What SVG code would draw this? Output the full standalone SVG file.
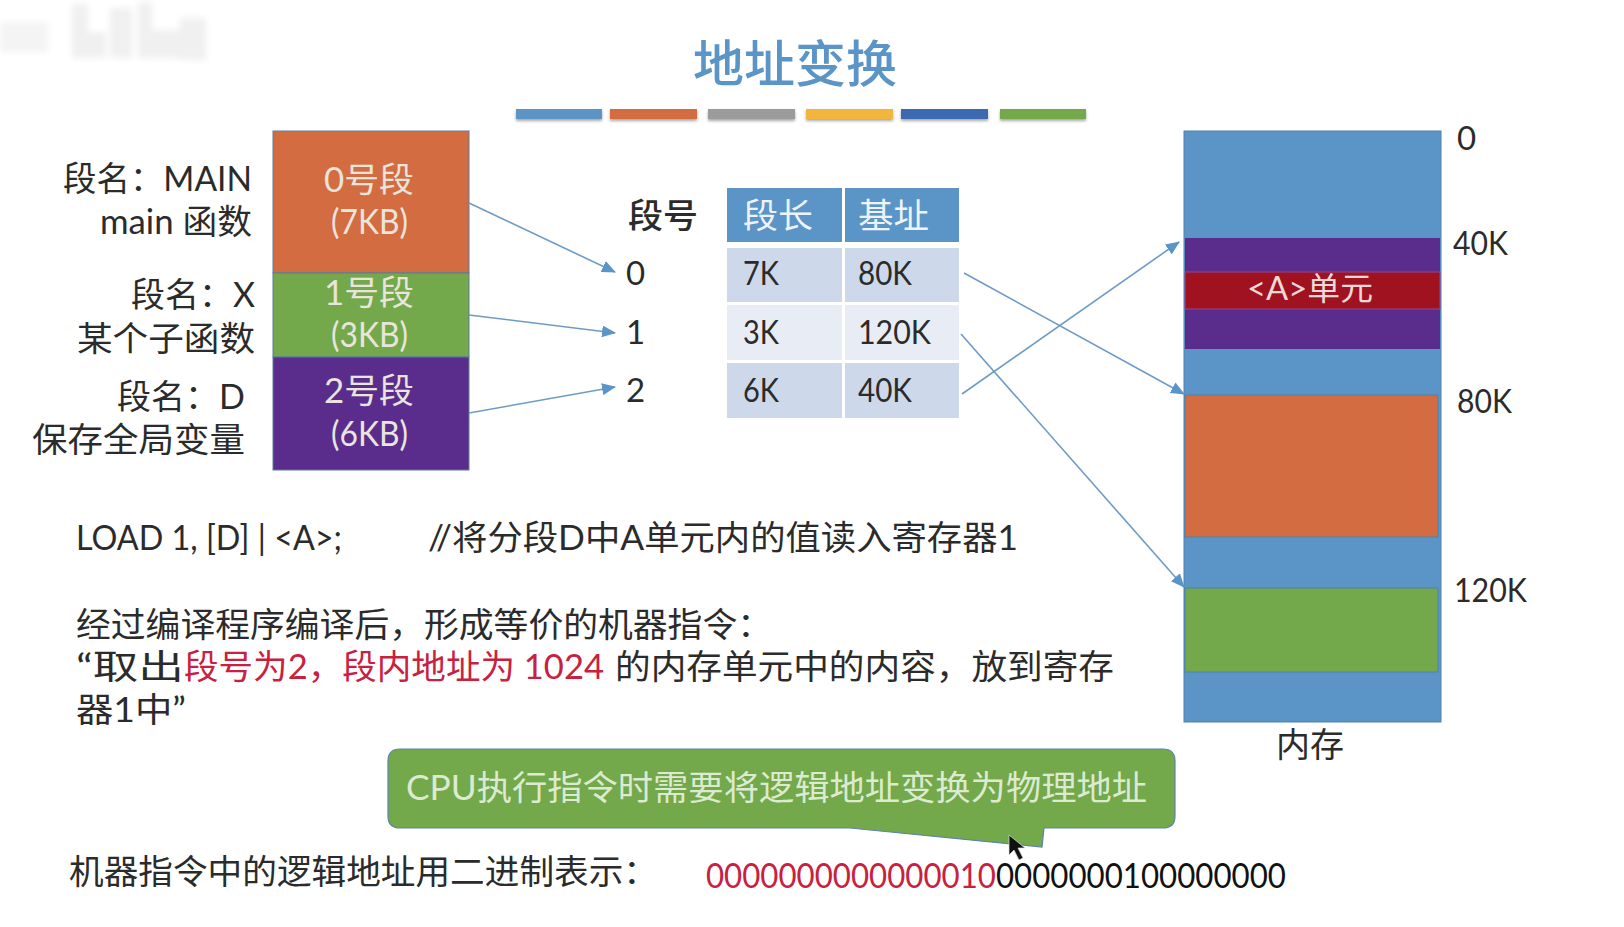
<svg xmlns="http://www.w3.org/2000/svg" width="1624" height="927" viewBox="0 0 1624 927">
<style>
text{font-family:"Lato","Noto Sans CJK SC","Noto Sans",sans-serif;font-size:34px;fill:#2b2b2b}
.wl{text-anchor:start}
.red{fill:#c8213f}
.lt{fill:#e9e4dc;font-size:34px}
.cell{font-size:33px}
.seg{stroke:#5a7d9e;stroke-width:1}
.mem{stroke:#4f81ad;stroke-width:1}
.conn{stroke:#6d9bc6;stroke-width:1.6;fill:none;marker-end:url(#arr)}
.hdr{fill:#5b94c6}.r1{fill:#cdd9ea}.r2{fill:#e8edf5}
</style>
<defs>
<marker id="arr" markerUnits="userSpaceOnUse" markerWidth="14" markerHeight="12" refX="13" refY="6" orient="auto"><path d="M0 0L14 6L0 12z" fill="#5b94c6"/></marker>
<filter id="sh" x="-5%" y="-50%" width="110%" height="250%"><feDropShadow dx="0" dy="2" stdDeviation="1.5" flood-color="#000" flood-opacity=".35"/></filter>
<filter id="bl" x="-20%" y="-20%" width="140%" height="140%"><feGaussianBlur stdDeviation="3"/></filter>
</defs>
<rect width="1624" height="927" fill="#fff"/>
<g id="watermark" fill="#f0f0f0" filter="url(#bl)">
<rect x="0" y="22" width="48" height="30" opacity=".7"/>
<rect x="72" y="4" width="16" height="54"/><rect x="72" y="32" width="34" height="26"/>
<rect x="110" y="8" width="22" height="50"/><rect x="138" y="2" width="14" height="56"/>
<rect x="152" y="30" width="30" height="28"/><rect x="180" y="18" width="26" height="42"/>
</g>
<g id="title">
<text x="693" y="82" textLength="204" lengthAdjust="spacingAndGlyphs" style="font-size:50px;fill:#5b94c6;font-weight:500">地址变换</text>
<g filter="url(#sh)">
<rect x="516" y="109" width="86" height="10" fill="#5b94c6"/>
<rect x="610" y="109" width="87" height="10" fill="#d36c41"/>
<rect x="708" y="109" width="87" height="10" fill="#9b9b9b"/>
<rect x="806" y="109" width="87" height="10" fill="#f2b53c"/>
<rect x="901" y="109" width="87" height="10" fill="#3e69b0"/>
<rect x="1000" y="109" width="86" height="10" fill="#73a84b"/>
</g>
</g>
<g id="seg0">
<rect class="seg" x="273" y="131" width="196" height="142" fill="#d36c41"/>
<text class="lt" x="324" y="192" textLength="90" lengthAdjust="spacingAndGlyphs">0号段</text>
<text class="lt" x="331" y="234" textLength="77" lengthAdjust="spacingAndGlyphs">(7KB)</text>
<text x="63" y="191" textLength="189" lengthAdjust="spacingAndGlyphs">段名：MAIN</text>
<text x="100" y="234" textLength="152" lengthAdjust="spacingAndGlyphs">main 函数</text>
</g>
<g id="seg1">
<rect class="seg" x="273" y="273" width="196" height="84" fill="#73a84b"/>
<text class="lt" x="324" y="305" textLength="90" lengthAdjust="spacingAndGlyphs">1号段</text>
<text class="lt" x="331" y="347" textLength="77" lengthAdjust="spacingAndGlyphs">(3KB)</text>
<text x="131" y="307" textLength="124" lengthAdjust="spacingAndGlyphs">段名：X</text>
<text x="77" y="351" textLength="178" lengthAdjust="spacingAndGlyphs">某个子函数</text>
</g>
<g id="seg2">
<rect class="seg" x="273" y="357" width="196" height="113" fill="#5a2d8c"/>
<text class="lt" x="324" y="403" textLength="90" lengthAdjust="spacingAndGlyphs">2号段</text>
<text class="lt" x="331" y="446" textLength="77" lengthAdjust="spacingAndGlyphs">(6KB)</text>
<text x="117" y="409" textLength="128" lengthAdjust="spacingAndGlyphs">段名：D</text>
<text x="32" y="452" textLength="213" lengthAdjust="spacingAndGlyphs">保存全局变量</text>
</g>
<g id="segtable">
<text x="628" y="228" textLength="70" lengthAdjust="spacingAndGlyphs" style="font-weight:500">段号</text>
<text class="cell" x="626" y="285">0</text><text class="cell" x="626" y="344">1</text><text class="cell" x="626" y="402">2</text>
<rect class="hdr" x="727" y="188" width="115" height="54"/><rect class="hdr" x="845" y="188" width="114" height="54"/>
<rect class="r1" x="727" y="248" width="115" height="54"/><rect class="r1" x="845" y="248" width="114" height="54"/>
<rect class="r2" x="727" y="305" width="115" height="55"/><rect class="r2" x="845" y="305" width="114" height="55"/>
<rect class="r1" x="727" y="363" width="115" height="55"/><rect class="r1" x="845" y="363" width="114" height="55"/>
<text x="743" y="228" textLength="70" lengthAdjust="spacingAndGlyphs" style="fill:#eef3f8">段长</text>
<text x="858" y="228" textLength="71" lengthAdjust="spacingAndGlyphs" style="fill:#eef3f8">基址</text>
<text class="cell" x="743" y="285" textLength="36" lengthAdjust="spacingAndGlyphs">7K</text>
<text class="cell" x="743" y="344" textLength="36" lengthAdjust="spacingAndGlyphs">3K</text>
<text class="cell" x="743" y="402" textLength="36" lengthAdjust="spacingAndGlyphs">6K</text>
<text class="cell" x="858" y="285" textLength="54" lengthAdjust="spacingAndGlyphs">80K</text>
<text class="cell" x="858" y="344" textLength="73" lengthAdjust="spacingAndGlyphs">120K</text>
<text class="cell" x="858" y="402" textLength="54" lengthAdjust="spacingAndGlyphs">40K</text>
</g>
<g id="memory">
<rect class="mem" x="1184" y="131" width="257" height="591" fill="#5b94c6"/>
<rect x="1185" y="238" width="255" height="111" fill="#5a2d8c"/>
<rect x="1185" y="272" width="255" height="37" fill="#a0121f" stroke="#8a4a9a" stroke-width="1"/>
<rect class="mem" x="1185" y="395" width="253" height="142" fill="#d36c41"/>
<rect class="mem" x="1185" y="588" width="253" height="84" fill="#73a84b"/>
<text x="1247" y="300" textLength="126" lengthAdjust="spacingAndGlyphs" style="fill:#eed9d9;font-size:32px">&lt;A&gt;单元</text>
<text class="cell" x="1457" y="150">0</text>
<text class="cell" x="1453" y="255" textLength="55" lengthAdjust="spacingAndGlyphs">40K</text>
<text class="cell" x="1457" y="413" textLength="55" lengthAdjust="spacingAndGlyphs">80K</text>
<text class="cell" x="1454" y="602" textLength="73" lengthAdjust="spacingAndGlyphs">120K</text>
<text x="1276" y="757" textLength="68" lengthAdjust="spacingAndGlyphs">内存</text>
</g>
<g id="connectors">
<line class="conn" x1="469" y1="203" x2="615" y2="272"/>
<line class="conn" x1="469" y1="315" x2="615" y2="333"/>
<line class="conn" x1="469" y1="413" x2="615" y2="387"/>
<line class="conn" x1="964" y1="273" x2="1184" y2="394"/>
<line class="conn" x1="961" y1="334" x2="1184" y2="587"/>
<line class="conn" x1="962" y1="394" x2="1179" y2="242"/>
</g>
<g id="instructions">
<text x="76" y="550" textLength="266" lengthAdjust="spacingAndGlyphs">LOAD 1, [D] | &lt;A&gt;;</text>
<text x="428" y="550" textLength="590" lengthAdjust="spacingAndGlyphs">//将分段D中A单元内的值读入寄存器1</text>
<text x="76" y="637" textLength="696" lengthAdjust="spacingAndGlyphs">经过编译程序编译后，形成等价的机器指令：</text>
<text x="76" y="679" textLength="108" lengthAdjust="spacingAndGlyphs">“取出</text>
<text class="red" x="184" y="679" textLength="420" lengthAdjust="spacingAndGlyphs">段号为2，段内地址为 1024</text>
<text x="615" y="679" textLength="499" lengthAdjust="spacingAndGlyphs">的内存单元中的内容，放到寄存</text>
<text x="76" y="722" textLength="110" lengthAdjust="spacingAndGlyphs">器1中”</text>
<text x="69" y="884" textLength="589" lengthAdjust="spacingAndGlyphs">机器指令中的逻辑地址用二进制表示：</text>
<text class="red" x="706" y="888" textLength="290" lengthAdjust="spacingAndGlyphs">0000000000000010</text>
<text x="996" y="888" textLength="290" lengthAdjust="spacingAndGlyphs" style="fill:#111">0000000100000000</text>
</g>
<g id="callout">
<path d="M400 749H1163Q1175 749 1175 761V816Q1175 828 1163 828H1044L1042 847L850 828H400Q388 828 388 816V761Q388 749 400 749Z" fill="#73a84b" stroke="#5b86a6" stroke-width="1.2"/>
<text x="406" y="800" textLength="741" lengthAdjust="spacingAndGlyphs" style="fill:#dcebd0">CPU执行指令时需要将逻辑地址变换为物理地址</text>
</g>
<path id="cursor" d="M1009 835V855L1014 850L1019 860L1023 858L1018 848L1025 848Z" fill="#111" stroke="#ddd" stroke-width=".7"/>
</svg>
